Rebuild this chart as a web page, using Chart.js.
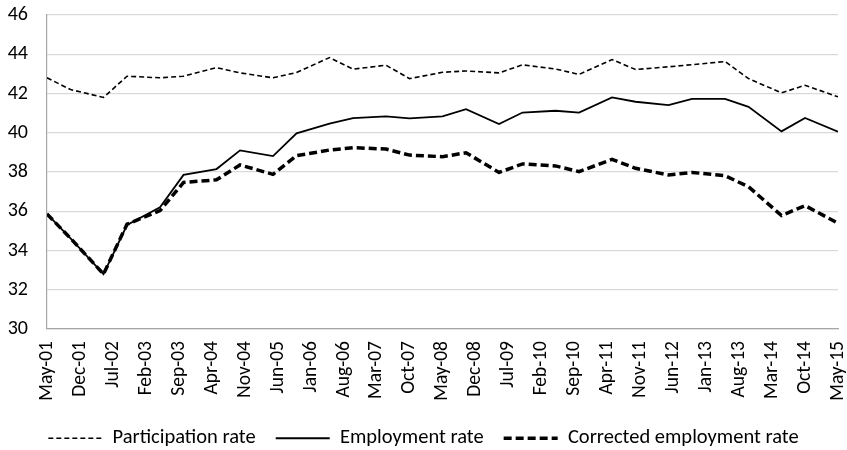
<!DOCTYPE html>
<html>
<head>
<meta charset="utf-8">
<title>Participation and employment rates</title>
<script src="https://cdn.jsdelivr.net/npm/chart.js@4.4.1/dist/chart.umd.min.js"></script>
<style>
  html, body { margin: 0; padding: 0; background: #fff; }
  #wrap { width: 847px; height: 450px; position: relative; }
</style>
</head>
<body>
<div id="wrap"><canvas id="rates"></canvas></div>
<script>
// Survey waves (May and October of each year)
const surveyDates = [
    "May-01", "Oct-01", "May-02", "Oct-02", "May-03", "Oct-03", "May-04", "Oct-04",
    "May-05", "Oct-05", "May-06", "Oct-06", "May-07", "Oct-07", "May-08", "Oct-08",
    "May-09", "Oct-09", "May-10", "Oct-10", "May-11", "Oct-11", "May-12", "Oct-12",
    "May-13", "Oct-13", "May-14", "Oct-14", "May-15"
];

const participationRate = [
    42.8, 42.2, 41.8, 42.88, 42.8, 42.88, 43.32, 43.05,
    42.8, 43.07, 43.83, 43.24, 43.44, 42.76, 43.08, 43.15,
    43.05, 43.46, 43.25, 42.97, 43.73, 43.22, 43.36, 43.47,
    43.63, 42.76, 42.03, 42.42, 41.83
];

const employmentRate = [
    35.86, 34.62, 32.8, 35.3, 36.2, 37.85, 38.15, 39.1,
    38.81, 39.97, 40.47, 40.75, 40.83, 40.73, 40.83, 41.2,
    40.44, 41.03, 41.12, 41.03, 41.8, 41.58, 41.41, 41.73,
    41.73, 41.32, 40.07, 40.75, 40.05
];

const correctedEmploymentRate = [
    35.86, 34.62, 32.8, 35.34, 36.03, 37.47, 37.6, 38.36,
    37.88, 38.83, 39.12, 39.24, 39.17, 38.86, 38.78, 38.98,
    37.98, 38.41, 38.31, 38.02, 38.64, 38.19, 37.85, 37.98,
    37.81, 37.25, 35.78, 36.29, 35.39
];

// Axis labels, one every 7 months starting May-01
const tickLabels = [
    "May-01", "Dec-01", "Jul-02", "Feb-03", "Sep-03", "Apr-04", "Nov-04", "Jun-05",
    "Jan-06", "Aug-06", "Mar-07", "Oct-07", "May-08", "Dec-08", "Jul-09", "Feb-10",
    "Sep-10", "Apr-11", "Nov-11", "Jun-12", "Jan-13", "Aug-13", "Mar-14", "Oct-14",
    "May-15"
];

const MONTHS = ["Jan", "Feb", "Mar", "Apr", "May", "Jun", "Jul", "Aug", "Sep", "Oct", "Nov", "Dec"];
const FONT = "Carlito, 'Liberation Sans', sans-serif";

// months elapsed since May 2001
function monthIndex(label) {
    const [mon, yy] = label.split("-");
    return (2000 + parseInt(yy, 10) - 2001) * 12 + MONTHS.indexOf(mon) - 4;
}

function toPoints(values) {
    return values.map((v, i) => ({ x: monthIndex(surveyDates[i]), y: v }));
}

const lastMonth = monthIndex(tickLabels[tickLabels.length - 1]);

// keep the legend strip short so it sits close to the bottom edge
const legendHeight = {
    id: "legendHeight",
    beforeLayout(chart) {
        const legend = chart.legend;
        if (legend && !legend._fixedFit) {
            const fit = legend.fit.bind(legend);
            legend.fit = function () {
                fit();
                this.height = 42;
            };
            legend._fixedFit = true;
        }
    },
};

new Chart(document.getElementById("rates"), {
    type: "line",
    data: {
        datasets: [
            {
                label: "Participation rate",
                data: toPoints(participationRate),
                borderColor: "#000",
                borderWidth: 1.6,
                borderDash: [5, 3],
            },
            {
                label: "Employment rate",
                data: toPoints(employmentRate),
                borderColor: "#000",
                borderWidth: 1.8,
            },
            {
                label: "Corrected employment rate",
                data: toPoints(correctedEmploymentRate),
                borderColor: "#000",
                borderWidth: 3.5,
                borderDash: [8, 4],
            },
        ],
    },
    plugins: [legendHeight],
    options: {
        responsive: true,
        maintainAspectRatio: false,
        animation: false,
        layout: { padding: 0 },
        elements: {
            point: { radius: 0 },
            line: { tension: 0, fill: false, borderCapStyle: "butt" },
        },
        scales: {
            x: {
                type: "linear",
                min: 0,
                max: lastMonth,
                afterFit: (scale) => {
                    scale.height = 79;
                    scale.paddingLeft = 0;
                    scale.paddingRight = 9;
                },
                afterBuildTicks: (scale) => {
                    scale.ticks = tickLabels.map((t) => ({ value: monthIndex(t) }));
                },
                ticks: {
                    autoSkip: false,
                    minRotation: 90,
                    maxRotation: 90,
                    padding: 12,
                    color: "#000",
                    font: { family: FONT, size: 19.5 },
                    callback: (value) => {
                        const i = tickLabels.findIndex((t) => monthIndex(t) === value);
                        return i >= 0 ? tickLabels[i] : "";
                    },
                },
                grid: { display: false, drawTicks: false },
                border: { display: true, color: "#a6a6a6", width: 1.2 },
            },
            y: {
                min: 30,
                max: 46,
                afterFit: (scale) => {
                    scale.width = 47;
                    scale.paddingTop = 15;
                },
                ticks: {
                    stepSize: 2,
                    padding: 19,
                    color: "#000",
                    font: { family: FONT, size: 20 },
                },
                grid: { color: "#d9d9d9", lineWidth: 1.2, drawTicks: false },
                border: { display: true, color: "#a6a6a6", width: 1.2 },
            },
        },
        plugins: {
            tooltip: { enabled: false },
            legend: {
                position: "bottom",
                labels: {
                    usePointStyle: true,
                    pointStyle: "line",
                    pointStyleWidth: 54,
                    padding: 20,
                    color: "#000",
                    font: { family: FONT, size: 20.5 },
                    // point-style items take the point's style, so copy the line's look back in
                    generateLabels: (chart) =>
                        Chart.defaults.plugins.legend.labels.generateLabels(chart).map((item) => {
                            const ds = chart.data.datasets[item.datasetIndex];
                            item.lineDash = ds.borderDash || [];
                            item.lineWidth = ds.borderWidth;
                            item.strokeStyle = ds.borderColor;
                            return item;
                        }),
                },
            },
        },
    },
});
</script>
</body>
</html>
